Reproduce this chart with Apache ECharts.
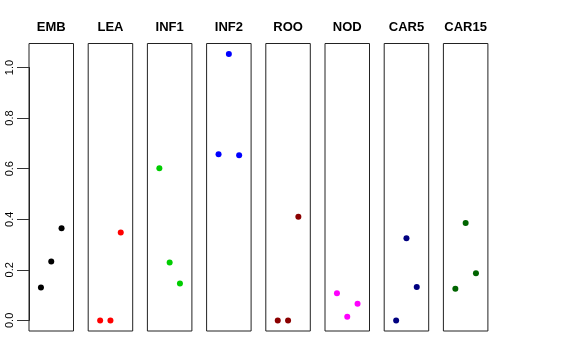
<!DOCTYPE html>
<html>
<head>
<meta charset="utf-8">
<script src="https://cdn.jsdelivr.net/npm/echarts@6/dist/echarts.min.js"></script>
<style>html,body{margin:0;padding:0;background:#fff;}#c{width:576px;height:360px;}</style>
</head>
<body>
<div id="c"></div>
<script>
const panels = ['EMB', 'LEA', 'INF1', 'INF2', 'ROO', 'NOD', 'CAR5', 'CAR15'];
const colors = ['#000000', '#FF0000', '#00CD00', '#0000FF', '#8B0000', '#FF00FF', '#000080', '#006400'];
const EMB = [0.130, 0.233, 0.364];
const LEA = [0.000, 0.000, 0.348];
const INF1 = [0.602, 0.229, 0.146];
const INF2 = [0.657, 1.053, 0.653];
const ROO = [0.000, 0.000, 0.410];
const NOD = [0.107, 0.014, 0.066];
const CAR5 = [0.000, 0.325, 0.132];
const CAR15 = [0.125, 0.385, 0.186];
const yTickMin = 0, yTickMax = 1.0, yTickStep = 0.2;
const values = [EMB, LEA, INF1, INF2, ROO, NOD, CAR5, CAR15];

const yMin = -0.042, yMax = 1.095;
const grids = [], xAxes = [], yAxes = [], series = [], titles = [];
const stepX = 59.2, panelW = 44.5, panelTop = 43.5, panelH = 287.5;
panels.forEach((name, i) => {
  const left = 29 + i * stepX;
  grids.push({left: left, top: panelTop, width: panelW, height: panelH, show: true, borderColor: '#222', borderWidth: 1, backgroundColor: 'transparent'});
  xAxes.push({type: 'value', gridIndex: i, min: -0.16, max: 4.16, show: false});
  yAxes.push({type: 'value', gridIndex: i, min: yMin, max: yMax, show: false});
  series.push({
    type: 'scatter', xAxisIndex: i, yAxisIndex: i, symbolSize: 6,
    itemStyle: {color: colors[i], opacity: 1},
    data: values[i].map((v, j) => [j + 1, v]),
    animation: false
  });
  titles.push({text: name, left: left + panelW / 2, top: 21, textAlign: 'center', padding: 0,
    textStyle: {fontSize: 13, fontWeight: 'bold', color: '#000', fontFamily: 'Liberation Sans'}});
});

// tick axis overlay spanning exactly the tick range of the first panel
const span = yMax - yMin;
grids.push({left: 29, width: panelW, show: false,
  top: panelTop + panelH * (yMax - yTickMax) / span,
  height: panelH * (yTickMax - yTickMin) / span});
xAxes.push({type: 'value', gridIndex: 8, min: 0, max: 1, show: false});
yAxes.push({
  type: 'value', gridIndex: 8, min: yTickMin, max: yTickMax, interval: yTickStep,
  position: 'left',
  splitLine: {show: false},
  axisLine: {show: true, onZero: false, lineStyle: {color: '#222', width: 1}},
  axisTick: {show: true, inside: false, length: 12, lineStyle: {color: '#333', width: 1}},
  axisLabel: {show: true, rotate: 90, margin: 14, fontSize: 11, color: '#000', fontFamily: 'Liberation Sans',
    formatter: v => v.toFixed(1)}
});

const chart = echarts.init(document.getElementById('c'), null, {renderer: 'canvas'});
chart.setOption({animation: false, title: titles, grid: grids, xAxis: xAxes, yAxis: yAxes, series: series});
</script>
</body>
</html>
